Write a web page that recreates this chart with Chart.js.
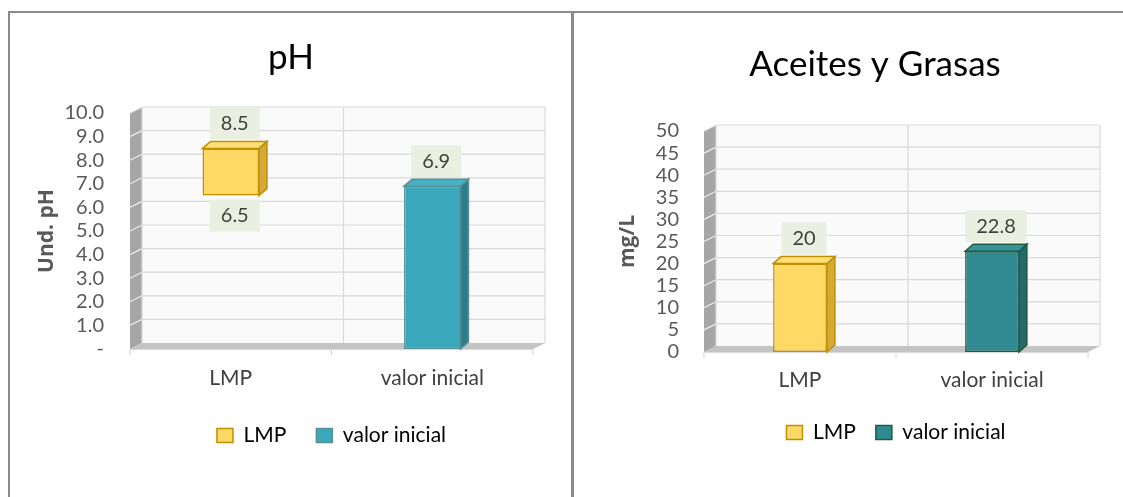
<!DOCTYPE html>
<html>
<head>
<meta charset="utf-8">
<script src="https://cdn.jsdelivr.net/npm/chart.js@4.4.0/dist/chart.umd.min.js"></script>
<style>
body { margin: 0; background: #fff; width: 1123px; height: 497px; overflow: hidden; position: relative; }
.frame { position: absolute; background: #8a8a8a; }
.box { position: absolute; top: 13px; height: 484px; }
</style>
</head>
<body>
<div class="frame" style="left:8px;top:11px;width:1115px;height:2px"></div>
<div class="frame" style="left:8px;top:11px;width:2px;height:486px"></div>
<div class="box" style="left:10px;width:562px"><canvas id="chartPH" width="562" height="484"></canvas></div>
<div class="box" style="left:574px;width:602px"><canvas id="chartAG" width="602" height="484"></canvas></div>
<div class="frame" style="left:571px;top:11px;width:3px;height:486px"></div>

<script type="text/javascript">
// data
const categories = ["LMP", "valor inicial"];
const seriesNames = ["LMP", "valor inicial"];

const phLmp = [6.5, 8.5];       // rango permitido
const phInicial = 6.9;
const phTickLabels = ["-", "1.0", "2.0", "3.0", "4.0", "5.0", "6.0", "7.0", "8.0", "9.0", "10.0"];

const agLmp = 20;
const agInicial = 22.8;
const agTickLabels = ["0", "5", "10", "15", "20", "25", "30", "35", "40", "45", "50"];

const FONT = "Lato, 'Open Sans', sans-serif";
const DX = 12, DY = 6;     // depth of the walls
const BDX = 8, BDY = 7;    // depth of the bars

// value label formats, per canvas
const formats = {
	chartPH: v => v.toFixed(1),
	chartAG: v => String(v)
};

function shade(ctx, pts, fill, stroke, lw){
	ctx.beginPath();
	ctx.moveTo(pts[0][0], pts[0][1]);
	for (let i = 1; i < pts.length; i++) ctx.lineTo(pts[i][0], pts[i][1]);
	ctx.closePath();
	ctx.fillStyle = fill;
	ctx.fill();
	if (stroke){
		ctx.strokeStyle = stroke;
		ctx.lineWidth = lw || 1;
		ctx.stroke();
	}
}

// back wall, side wall, floor and grid
const walls = {
	id: "walls",
	beforeDatasetsDraw(chart){
		const ctx = chart.ctx;
		const a = chart.chartArea;
		const ys = chart.scales.y;
		ctx.save();
		shade(ctx, [[a.left+DX, a.top-DY], [a.right+DX, a.top-DY], [a.right+DX, a.bottom-DY], [a.left+DX, a.bottom-DY]], "#fafafa");
		shade(ctx, [[a.left, a.bottom], [a.left, a.top], [a.left+DX, a.top-DY], [a.left+DX, a.bottom-DY]], "#a6a6a6");
		shade(ctx, [[a.left, a.bottom], [a.left+DX, a.bottom-DY], [a.right+DX, a.bottom-DY], [a.right, a.bottom]], "#c4c4c4");
		ctx.lineWidth = 1.2;
		ys.ticks.forEach(t => {
			const py = ys.getPixelForValue(t.value);
			if (t.value > ys.min){
				ctx.strokeStyle = "#d9d9d9";
				ctx.beginPath();
				ctx.moveTo(a.left+DX, py-DY);
				ctx.lineTo(a.right+DX, py-DY);
				ctx.stroke();
				ctx.strokeStyle = "#ececec";
				ctx.beginPath();
				ctx.moveTo(a.left, py);
				ctx.lineTo(a.left+DX, py-DY);
				ctx.stroke();
			}
		});
		const cw = (a.right - a.left) / categories.length;
		ctx.strokeStyle = "#d9d9d9";
		for (let k = 0; k <= categories.length; k++){
			const px = a.left + k * cw;
			ctx.beginPath();
			ctx.moveTo(px+DX, a.top-DY);
			ctx.lineTo(px+DX, a.bottom-DY);
			ctx.stroke();
			ctx.beginPath();
			ctx.moveTo(px, a.bottom);
			ctx.lineTo(px, a.bottom+6);
			ctx.stroke();
		}
		ctx.beginPath();
		ctx.moveTo(a.left, a.bottom+0.5);
		ctx.lineTo(a.right, a.bottom+0.5);
		ctx.stroke();
		ctx.restore();
	}
};

// top and side faces of the bars, plus value labels
const bars3d = {
	id: "bars3d",
	afterDatasetsDraw(chart){
		const ctx = chart.ctx;
		const fmt = formats[chart.canvas.id];
		ctx.save();
		chart.data.datasets.forEach((ds, i) => {
			const meta = chart.getDatasetMeta(i);
			meta.data.forEach((bar, j) => {
				const raw = ds.data[j];
				if (raw === null) return;
				const p = bar.getProps(["x", "y", "base", "width"], true);
				const l = p.x - p.width/2, r = p.x + p.width/2;
				const top = Math.min(p.y, p.base), bot = Math.max(p.y, p.base);
				shade(ctx, [[r, top], [r+BDX, top-BDY], [r+BDX, bot-BDY], [r, bot]], ds.sideColor, ds.borderColor, 1.5);
				shade(ctx, [[l, top], [l+BDX, top-BDY], [r+BDX, top-BDY], [r, top]], ds.topColor, ds.borderColor, 1.5);

				const vals = Array.isArray(raw) ? raw : [raw];
				vals.forEach((v, k) => {
					const txt = fmt(v);
					ctx.font = "20px " + FONT;
					const tw = ctx.measureText(txt).width;
					const cx = p.x + 4;
					const cy = (vals.length === 2 && k === 0) ? bot + 20 : top - 25;
					ctx.fillStyle = "#e9f0e1";
					ctx.fillRect(cx - tw/2 - 11, cy - 16, tw + 22, 32);
					ctx.fillStyle = "#404040";
					ctx.textAlign = "center";
					ctx.textBaseline = "middle";
					ctx.fillText(txt, cx, cy);
				});
			});
		});
		ctx.restore();
	}
};

function makeChart(id, cfg){
	return new Chart(id, {
		type: "bar",
		data: {
			labels: categories,
			datasets: [{
				label: seriesNames[0],
				data: cfg.lmp,
				backgroundColor: "#ffd966",
				borderColor: "#bf9000",
				topColor: "#ffdf7a",
				sideColor: "#d4a935",
				borderWidth: 1.5,
				borderSkipped: false
			}, {
				label: seriesNames[1],
				data: cfg.inicial,
				backgroundColor: cfg.tealFill,
				borderColor: cfg.tealBorder,
				topColor: cfg.tealTop,
				sideColor: cfg.tealSide,
				borderWidth: 1.5,
				borderSkipped: false
			}]
		},
		options: {
			responsive: false,
			animation: false,
			skipNull: true,
			categoryPercentage: 1,
			barPercentage: 0.28,
			layout: { padding: { right: 0, bottom: cfg.padBottom } },
			scales: {
				x: {
					grid: { display: false, drawTicks: false },
					border: { display: false },
					ticks: { color: "#404040", font: { family: FONT, size: 21 }, padding: cfg.xPad },
					afterFit(s){ s.height = cfg.xHeight; }
				},
				y: {
					min: 0,
					max: cfg.max,
					grid: { display: false, drawTicks: false },
					border: { display: false },
					ticks: {
						stepSize: cfg.step,
						autoSkip: false,
						color: "#595959",
						font: { family: FONT, size: 20, lineHeight: 0.9 },
						padding: cfg.tickPad,
						callback: v => cfg.tickLabels[Math.round(v / cfg.step)]
					},
					title: {
						display: true,
						text: cfg.yTitle,
						color: "#595959",
						font: { family: "'Open Sans', sans-serif", size: 21, weight: "bold" },
						padding: { top: cfg.yTitlePad, bottom: 0 }
					},
					afterFit(s){ s.width = cfg.yWidth; }
				},
				// empty right margin, keeps the title centred like the original
				margin: {
					type: "linear",
					position: "right",
					grid: { display: false, drawTicks: false },
					border: { display: false },
					ticks: { display: false },
					afterFit(s){ s.width = cfg.rightGap; }
				}
			},
			plugins: {
				title: {
					display: true,
					text: cfg.title,
					color: "#000",
					font: { family: FONT, size: 35, weight: "normal" },
					padding: { top: cfg.titleTop, bottom: cfg.titleBottom }
				},
				legend: {
					position: "bottom",
					fullSize: false,
					labels: {
						color: "#404040",
						font: { family: FONT, size: 21 },
						boxWidth: 16,
						boxHeight: 14,
						padding: cfg.legendGap,
						generateLabels(chart){
							return chart.data.datasets.map((d, i) => ({
								text: d.label,
								fillStyle: d.backgroundColor,
								strokeStyle: d.borderColor,
								lineWidth: 1.5,
								datasetIndex: i
							}));
						}
					}
				},
				tooltip: { enabled: false }
			}
		},
		plugins: [walls, bars3d]
	});
}

makeChart("chartPH", {
	lmp: [phLmp, null],
	inicial: [null, phInicial],
	max: 10, step: 1, tickLabels: phTickLabels,
	title: "pH", yTitle: "Und. pH",
	tealFill: "#3aa8ba", tealBorder: "#5a8f98", tealTop: "#45b1c2", tealSide: "#2b7d8b",
	yWidth: 120, tickPad: 26, yTitlePad: 24, rightGap: 39,
	padBottom: 41, xHeight: 46, xPad: 17,
	titleTop: 24, titleBottom: 34, legendGap: 30
});

makeChart("chartAG", {
	lmp: [agLmp, null],
	inicial: [null, agInicial],
	max: 50, step: 5, tickLabels: agTickLabels,
	title: "Aceites y Grasas", yTitle: "mg/L",
	tealFill: "#2f8a92", tealBorder: "#1f5c3e", tealTop: "#35939b", tealSide: "#236a70",
	yWidth: 130, tickPad: 25, yTitlePad: 41, rightGap: 88,
	padBottom: 44, xHeight: 50, xPad: 16,
	titleTop: 31, titleBottom: 45, legendGap: 20
});
</script>
</body>
</html>
